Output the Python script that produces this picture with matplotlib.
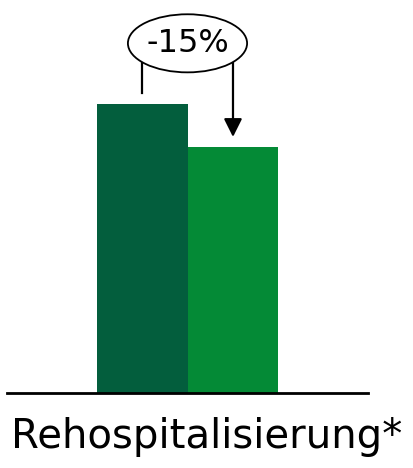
import matplotlib
matplotlib.use("Agg")
import matplotlib.pyplot as plt
from matplotlib.patches import Ellipse

categories = ["vorher", "nachher"]
values = [100, 85]
colors = ["#035E3D", "#048A36"]
change_label = "-15%"
xlabel = "Rehospitalisierung*"

plt.rcParams['font.family'] = ['DejaVu Sans']

fig = plt.figure(figsize=(4.13, 4.68), dpi=100)
ax = fig.add_axes([7 / 413, 75 / 468, 361 / 413, 393 / 468])

x = range(len(categories))
ax.bar(x, values, width=1.0, color=colors)
ax.set_xlim(-1.484, 2.484)
ax.set_ylim(0, values[0] * 393 / 289)

for side in ["top", "right", "left"]:
    ax.spines[side].set_visible(False)
ax.spines["bottom"].set_linewidth(2)
ax.spines["bottom"].set_color("black")
ax.set_xticks([])
ax.set_yticks([])

# ellipse with the relative change, centred between the bars
cy = values[0] + 21
ell = Ellipse((0.5, cy), 1.31, 20.1, facecolor="white", edgecolor="black", lw=1.3, zorder=3)
ax.add_patch(ell)
ax.text(0.5, cy, change_label, ha="center", va="center", fontsize=23, zorder=4)

# connector from first bar up to ellipse, arrow down to second bar
ax.plot([0, 0], [values[0] + 3.8, cy - 6], color="black", lw=1.6, zorder=2)
ax.annotate("", xy=(1, values[1] + 3.6), xytext=(1, cy - 6),
            arrowprops=dict(arrowstyle="-|>,head_length=1.1,head_width=0.55",
                            color="black", lw=1.6, shrinkA=0, shrinkB=0), zorder=2)

fig.text(0.5, 1 - 437 / 468, xlabel, ha="center", va="center", fontsize=29)

fig.savefig("out.png", dpi=100)
